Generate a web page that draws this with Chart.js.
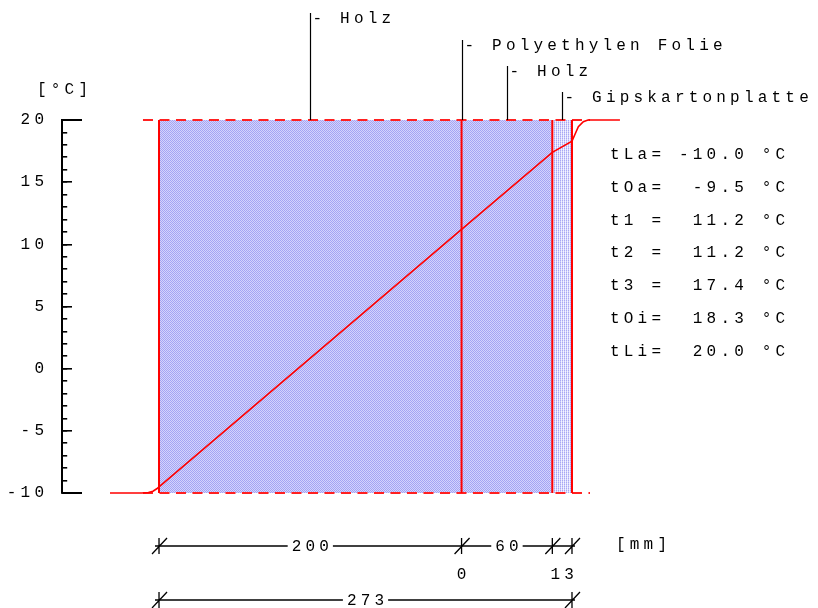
<!DOCTYPE html>
<html><head><meta charset="utf-8">
<script src="https://cdn.jsdelivr.net/npm/chart.js@4"></script>
<style>html,body{margin:0;padding:0;background:#fff}#wrap{width:818px;height:608px;position:relative}</style>
</head><body><div id="wrap"><canvas id="c"></canvas></div>
<script>
// ---- data ----
const layerNames = ['Holz', 'Polyethylen Folie', 'Holz', 'Gipskartonplatte'];
const layerThickness = [200, 0, 60, 13];          // mm
const totalThickness = 273;                        // mm
const tempMin = -10, tempMax = 20;                 // °C axis range
const yTickStep = 1, yLabelStep = 5;
const tempPositions = [-32.4, -11.3, -7, -4, -1.5, 0, 200, 260, 273, 275, 277.2, 280.5, 283.6, 304.7];
const tempValues    = [-10, -10, -9.96, -9.86, -9.66, -9.5, 11.2, 17.4, 18.3, 18.85, 19.46, 19.86, 20, 20];
const resultLabels = ['tLa=', 'tOa=', 't1 =', 't2 =', 't3 =', 'tOi=', 'tLi='];
const resultValues = [-10.0, -9.5, 11.2, 11.2, 17.4, 18.3, 20.0];
const surfaceLineRange = [-10.6, 284.9];           // dashed reference lines (mm)
const unitY = '[°C]';
const unitX = '[mm]';

// ---- helpers ----
const FONT = '16px "Liberation Mono", "DejaVu Sans Mono", monospace';
const LS = 4.2;
function makePattern(cells) {
  const c = document.createElement('canvas');
  c.width = 2; c.height = 2;
  const g = c.getContext('2d');
  cells.forEach((col, i) => { g.fillStyle = col; g.fillRect(i % 2, Math.floor(i / 2), 1, 1); });
  return g.createPattern(c, 'repeat');
}
const woodPattern = makePattern(['#a4a4f4', '#d4d4fc', '#d4d4fc', '#a4a4f4']);
const gipsPattern = makePattern(['#a8a8f4', '#e8e8fe', '#cacafa', '#f4f4ff']);

const bounds = [0];
layerThickness.forEach(t => bounds.push(bounds[bounds.length - 1] + t));

const datasets = [];
// temperature profile
datasets.push({
  data: tempPositions.map((x, i) => ({x, y: tempValues[i]})),
  borderColor: '#ff0000', borderWidth: 1.6, pointRadius: 0, tension: 0, fill: false, order: 0, clip: false
});
// layer boundaries
[...new Set(bounds)].forEach(b => datasets.push({
  data: [{x: b, y: tempMin}, {x: b, y: tempMax}],
  borderColor: '#ff0000', borderWidth: 2, pointRadius: 0, fill: false, order: 1, clip: false
}));
// dashed surface lines
[tempMax, tempMin].forEach(v => datasets.push({
  data: [{x: surfaceLineRange[0], y: v}, {x: surfaceLineRange[1], y: v}],
  borderColor: '#ff2020', borderWidth: 2, borderDash: [10, 6.5], pointRadius: 0, fill: false, order: 2, clip: false
}));
// layer fills
layerThickness.forEach((t, i) => {
  if (t <= 0) return;
  datasets.push({
    data: [{x: bounds[i], y: tempMax}, {x: bounds[i + 1], y: tempMax}],
    borderWidth: 0, borderColor: 'rgba(0,0,0,0)', pointRadius: 0,
    backgroundColor: layerNames[i] === 'Gipskartonplatte' ? gipsPattern : woodPattern,
    fill: {value: tempMin}, order: 3, clip: false
  });
});

const X_MIN = -64, X_MAX = 360;

function spacedText(ctx, text, x, y, align) {
  ctx.save();
  ctx.font = FONT;
  ctx.letterSpacing = LS + 'px';
  ctx.fillStyle = '#000';
  ctx.textBaseline = 'alphabetic';
  ctx.textAlign = 'left';
  const w = ctx.measureText(text).width - LS;
  let sx = x;
  if (align === 'center') sx = x - w / 2;
  else if (align === 'right') sx = x - w;
  ctx.fillText(text, sx, y);
  ctx.restore();
  return w;
}

const decor = {
  id: 'decor',
  beforeDraw(chart) { chart.ctx.letterSpacing = LS + 'px'; },
  afterDraw(chart) {
    const ctx = chart.ctx;
    ctx.letterSpacing = '0px';
    const xs = chart.scales.x, ys = chart.scales.y;
    const topPx = ys.getPixelForValue(tempMax);
    // layer name leaders
    const leaderTops = [13, 40, 66, 92];
    layerNames.forEach((name, i) => {
      const px = Math.round(xs.getPixelForValue((bounds[i] + bounds[i + 1]) / 2)) + 0.5;
      ctx.save();
      ctx.strokeStyle = '#000'; ctx.lineWidth = 1.2;
      ctx.beginPath(); ctx.moveTo(px, leaderTops[i]); ctx.lineTo(px, topPx); ctx.stroke();
      ctx.restore();
      spacedText(ctx, '- ' + name, px + 2, leaderTops[i] + 10, 'left');
    });
    // y unit
    spacedText(ctx, unitY, 37, 94, 'left');
    // results
    resultLabels.forEach((lab, i) => {
      const s = lab + resultValues[i].toFixed(1).padStart(6, ' ') + ' °C';
      spacedText(ctx, s, 610, 159 + i * 32.8, 'left');
    });
    // dimension lines
    function mark(px, y) {
      ctx.beginPath();
      ctx.moveTo(px, y - 8); ctx.lineTo(px, y + 8);
      ctx.moveTo(px - 7, y + 8); ctx.lineTo(px + 8, y - 8);
      ctx.stroke();
    }
    function dimRow(y, edges, labelsOnLine) {
      const p0 = xs.getPixelForValue(edges[0]), p1 = xs.getPixelForValue(edges[edges.length - 1]);
      ctx.save();
      ctx.strokeStyle = '#000'; ctx.lineWidth = 1.3;
      ctx.beginPath(); ctx.moveTo(p0 - 4, y); ctx.lineTo(p1 + 3, y); ctx.stroke();
      edges.forEach(e => mark(xs.getPixelForValue(e), y));
      ctx.restore();
      labelsOnLine.forEach(([a, b, txt]) => {
        const cx = (xs.getPixelForValue(a) + xs.getPixelForValue(b)) / 2;
        ctx.save();
        ctx.font = FONT; ctx.letterSpacing = LS + 'px';
        const w = ctx.measureText(txt).width - LS;
        ctx.fillStyle = '#fff';
        ctx.fillRect(cx - w / 2 - 4, y - 3, w + 8, 6);
        ctx.restore();
        spacedText(ctx, txt, cx, y + 5, 'center');
      });
    }
    const row1y = 546, row2y = 579, row3y = 600;
    const onLine = [], below = [];
    layerThickness.forEach((t, i) => {
      const item = [bounds[i], bounds[i + 1], String(t)];
      if (t >= 30) onLine.push(item); else below.push(item);
    });
    dimRow(row1y, [...new Set(bounds)], onLine);
    below.forEach(([a, b, txt]) => {
      const cx = (xs.getPixelForValue(a) + xs.getPixelForValue(b)) / 2;
      spacedText(ctx, txt, cx, row2y, 'center');
    });
    dimRow(row3y, [0, totalThickness], [[0, totalThickness, String(totalThickness)]]);
    spacedText(ctx, unitX, 616, 549, 'left');
  }
};

new Chart(document.getElementById('c'), {
  type: 'line',
  data: {datasets},
  options: {
    responsive: true, maintainAspectRatio: false, animation: false,
    layout: {padding: {top: 120, bottom: 115, left: 0, right: 818 - 703.6}},
    plugins: {legend: {display: false}, tooltip: {enabled: false}},
    scales: {
      x: {type: 'linear', min: X_MIN, max: X_MAX, display: false},
      y: {
        type: 'linear', position: 'left', min: tempMin, max: tempMax,
        afterFit: s => { s.width = 62.2; },
        ticks: {
          stepSize: yTickStep, autoSkip: false, padding: 19, color: '#000',
          font: {family: '"Liberation Mono", monospace', size: 16},
          callback: v => (v % yLabelStep === 0 ? String(v) : '')
        },
        grid: {drawOnChartArea: false, drawTicks: true, tickLength: -5, color: '#000', lineWidth: 1.6},
        border: {display: true, color: '#000', width: 2}
      },
      yMajor: {
        type: 'linear', position: {x: X_MIN}, min: tempMin, max: tempMax,
        ticks: {stepSize: yLabelStep, display: false, autoSkip: false},
        grid: {drawOnChartArea: false, drawTicks: true, tickLength: -10, color: '#000', lineWidth: 1.6},
        border: {display: false}
      },
      yEnds: {
        type: 'linear', position: {x: X_MIN}, min: tempMin, max: tempMax,
        ticks: {stepSize: tempMax - tempMin, display: false, autoSkip: false},
        grid: {drawOnChartArea: false, drawTicks: true, tickLength: -20, color: '#000', lineWidth: 2},
        border: {display: false}
      }
    }
  },
  plugins: [decor]
});
</script>
</body></html>
